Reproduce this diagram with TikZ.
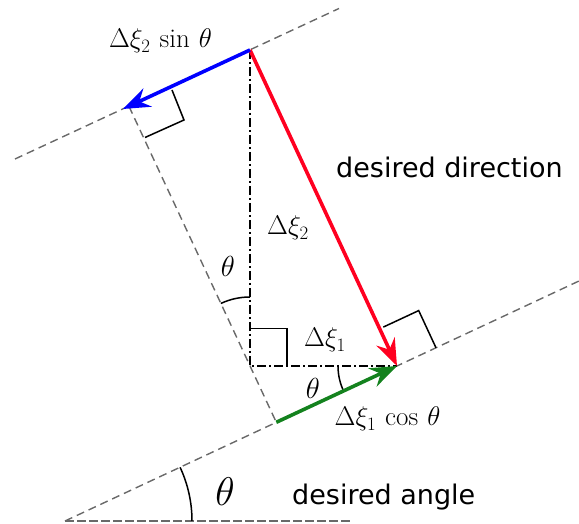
\RequirePackage{fix-cm}
\documentclass[tikz,border=0pt]{standalone}
\usepackage{fontspec}
\newfontfamily\labelfont{DejaVu Sans}
\usetikzlibrary{arrows.meta,calc}
\definecolor{dashgray}{RGB}{105,105,105}
\definecolor{vecred}{RGB}{255,0,32}
\definecolor{vecblue}{RGB}{0,0,255}
\definecolor{vecgreen}{RGB}{20,130,30}
\begin{document}
\begin{tikzpicture}[x=1pt,y=1pt,
  guide/.style={draw=dashgray, line width=1.4pt, dash pattern=on 8pt off 5pt},
  baseguide/.style={draw=dashgray, line width=1.8pt, dash pattern=on 9pt off 3pt},
  dashdotline/.style={draw=black, line width=2.3pt, dash pattern=on 9pt off 3pt on 2pt off 3pt},
  vec/.style={line width=3.6pt, -{Stealth[length=27pt,width=20pt,inset=9pt]}},
  rightmark/.style={draw=black, line width=1.5pt},
  anglemark/.style={draw=black, line width=1.5pt},
  mathlabel/.style={inner sep=0pt, anchor=base, font=\fontsize{27}{32}\selectfont},
  thetalabel/.style={inner sep=0pt, anchor=center, font=\fontsize{29}{34}\selectfont},
  wordlabel/.style={inner sep=0pt, anchor=base west, font=\labelfont\fontsize{27}{32}\selectfont},
]
\useasboundingbox (0,0) rectangle (579,524);

% key points
\coordinate (P)  at (250,474);
\coordinate (C)  at (250,158);
\coordinate (R)  at (397,158);
\coordinate (Bt) at (123,415);
\coordinate (B)  at (129,417.6);
\coordinate (G0) at (276.3,101.7);
\coordinate (U1) at (15,365);
\coordinate (U2) at (339,515.5);
\coordinate (V)  at (65,3);
\coordinate (L2) at (579,243);
\coordinate (H2) at (350,3);

% guide lines
\draw[guide] (U1) -- (U2);
\draw[guide] (V) -- (L2);
\draw[guide] (B) -- (G0);
\draw[baseguide] (V) -- (H2);

% dash-dot components
\draw[dashdotline] (P) -- (C) -- (R);

% right-angle marks
\coordinate (mb1) at (172,434);
\coordinate (mb2) at (184,404);
\coordinate (mb3) at (145,386.5);
\draw[rightmark] (mb1) -- (mb2) -- (mb3);
\coordinate (mr1) at (383.3,196.9);
\coordinate (mr2) at (418.7,213.4);
\coordinate (mr3) at (436,176.2);
\draw[rightmark] (mr1) -- (mr2) -- (mr3);
\coordinate (mc1) at (250,195.5);
\coordinate (mc2) at (287,195.5);
\coordinate (mc3) at (287,158);
\draw[rightmark] (mc1) -- (mc2) -- (mc3);

% angle arcs
\draw[anglemark] ($(C)+(90:69)$) arc[start angle=90, end angle=115, radius=69];
\draw[anglemark] ($(R)+(180:59)$) arc[start angle=180, end angle=205, radius=59];
\draw[anglemark] ($(V)+(0:127)$) arc[start angle=0, end angle=25, radius=127];

% vectors
\draw[vec, vecred] (P) -- (R);
\draw[vec, vecblue] (P) -- (Bt);
\draw[vec, vecgreen] (G0) -- (R);

% labels
\node[mathlabel] (lsin) at (160.5,476) {$\Delta\xi_2\,\sin\,\theta$};
\node[mathlabel] (lxi2) at (288,289) {$\Delta\xi_2$};
\node[thetalabel] (lth1) at (228,258) {$\theta$};
\node[mathlabel] (lxi1) at (325,177) {$\Delta\xi_1$};
\node[thetalabel] (lth2) at (313,136) {$\theta$};
\node[mathlabel] (lcos) at (387.5,98) {$\Delta\xi_1\,\cos\,\theta$};
\node[inner sep=0pt, font=\fontsize{40}{46}\selectfont] (lth3) at (225,32) {$\theta$};
\node[wordlabel] (ldir) at (336,346) {desired direction};
\node[wordlabel] (lang) at (292,19) {desired angle};
\end{tikzpicture}
\end{document}
